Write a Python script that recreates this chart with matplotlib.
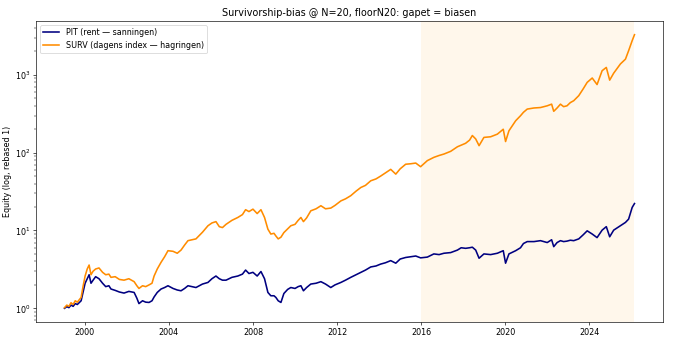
import numpy as np
import pandas as pd
import matplotlib
matplotlib.use("Agg")
import matplotlib.pyplot as plt

# values (decimal year, equity rebased to 1)
years = [
    1999.04, 1999.15, 1999.25, 1999.35, 1999.45, 1999.55, 1999.65, 1999.75, 1999.83, 1999.92,
    2000.02, 2000.12, 2000.21, 2000.30, 2000.40, 2000.52, 2000.68, 2000.85, 2001.00, 2001.15,
    2001.25, 2001.45, 2001.65, 2001.87, 2002.10, 2002.35, 2002.48, 2002.58, 2002.75, 2002.90,
    2003.06, 2003.20, 2003.30, 2003.45, 2003.63, 2003.80, 2003.96, 2004.20, 2004.40, 2004.58,
    2004.75, 2004.91, 2005.10, 2005.29, 2005.60, 2005.86, 2006.05, 2006.24, 2006.40, 2006.55,
    2006.72, 2007.00, 2007.28, 2007.50, 2007.65, 2007.81, 2008.00, 2008.20, 2008.38, 2008.55,
    2008.71, 2008.85, 2009.00, 2009.09, 2009.20, 2009.33, 2009.47, 2009.65, 2009.80, 2010.00,
    2010.15, 2010.28, 2010.40, 2010.55, 2010.75, 2011.00, 2011.23, 2011.45, 2011.70, 2011.90,
    2012.18, 2012.40, 2012.65, 2012.90, 2013.13, 2013.35, 2013.60, 2013.85, 2014.07, 2014.30,
    2014.55, 2014.79, 2015.00, 2015.26, 2015.50, 2015.74, 2015.97, 2016.29, 2016.60, 2016.85,
    2017.08, 2017.40, 2017.72, 2017.90, 2018.11, 2018.30, 2018.43, 2018.59, 2018.75, 2018.98,
    2019.30, 2019.62, 2019.90, 2020.01, 2020.17, 2020.49, 2020.72, 2020.86, 2021.04, 2021.36,
    2021.67, 2021.99, 2022.20, 2022.30, 2022.46, 2022.62, 2022.77, 2022.93, 2023.09, 2023.25,
    2023.49, 2023.70, 2023.89, 2024.13, 2024.36, 2024.60, 2024.80, 2024.96, 2025.15, 2025.47,
    2025.71, 2025.86, 2026.03, 2026.14,
]
pit = [
    1.00, 1.05, 1.02, 1.10, 1.06, 1.15, 1.12, 1.19, 1.25, 1.60,
    2.10, 2.40, 2.70, 2.10, 2.30, 2.55, 2.40, 2.10, 1.90, 1.95,
    1.77, 1.70, 1.62, 1.57, 1.65, 1.60, 1.35, 1.15, 1.25, 1.20,
    1.19, 1.25, 1.40, 1.60, 1.77, 1.85, 1.95, 1.80, 1.72, 1.68,
    1.80, 1.95, 1.90, 1.85, 2.05, 2.15, 2.40, 2.60, 2.40, 2.30,
    2.30, 2.50, 2.60, 2.75, 3.10, 2.80, 2.90, 2.60, 2.97, 2.40,
    1.60, 1.45, 1.45, 1.38, 1.25, 1.19, 1.55, 1.75, 1.85, 1.80,
    1.90, 1.95, 1.68, 1.85, 2.05, 2.10, 2.20, 2.05, 1.85, 2.00,
    2.15, 2.30, 2.50, 2.70, 2.90, 3.10, 3.40, 3.50, 3.70, 3.85,
    4.10, 3.80, 4.30, 4.50, 4.60, 4.70, 4.45, 4.55, 5.00, 4.90,
    5.10, 5.20, 5.60, 6.00, 5.90, 6.00, 6.10, 5.60, 4.40, 5.00,
    4.90, 5.10, 5.50, 3.80, 5.00, 5.50, 6.00, 6.80, 7.20, 7.20,
    7.40, 7.00, 7.60, 6.20, 7.00, 7.40, 7.20, 7.30, 7.50, 7.40,
    7.80, 8.80, 9.90, 9.00, 8.10, 10.10, 11.20, 8.30, 10.10, 11.50,
    12.70, 14.00, 19.80, 22.20,
]
surv = [
    1.02, 1.10, 1.06, 1.18, 1.12, 1.25, 1.20, 1.30, 1.38, 1.90,
    2.60, 3.20, 3.60, 2.70, 3.00, 3.20, 3.30, 2.90, 2.70, 2.75,
    2.50, 2.55, 2.35, 2.30, 2.40, 2.20, 1.95, 1.80, 1.95, 1.90,
    2.00, 2.10, 2.60, 3.20, 3.90, 4.60, 5.50, 5.40, 5.10, 5.60,
    6.50, 7.40, 7.60, 7.80, 9.50, 11.50, 12.50, 13.00, 11.20, 10.90,
    12.00, 13.50, 14.70, 16.00, 18.50, 17.50, 18.80, 16.50, 18.50, 14.70,
    10.40, 9.00, 9.20, 8.50, 7.80, 8.20, 9.40, 10.50, 11.50, 12.00,
    13.50, 14.70, 13.00, 14.50, 17.90, 19.00, 20.80, 19.00, 19.40, 21.00,
    24.0, 25.5, 28.0, 32.0, 35.7, 38.0, 43.5, 46.0, 50.0, 55.0,
    61.0, 53.0, 62.0, 71.0, 72.0, 73.5, 66.0, 79.0, 87.0, 92.0,
    96.0, 104.0, 119.0, 125.0, 132.0, 145.0, 166.0, 150.0, 123.0, 157.0,
    160.0, 173.0, 200.0, 139.0, 191.0, 257.0, 298.0, 330.0, 363.0, 375.0,
    380.0, 400.0, 420.0, 340.0, 375.0, 420.0, 390.0, 400.0, 440.0, 465.0,
    540.0, 660.0, 800.0, 910.0, 750.0, 1130.0, 1245.0, 855.0, 1050.0, 1380.0,
    1590.0, 2040.0, 2750.0, 3280.0,
]
oos_start = "2016-01-01"

dates = pd.Timestamp("2000-01-01") + pd.to_timedelta((np.array(years) - 2000) * 365.25, unit="D")

fig, ax = plt.subplots(figsize=(12, 343 / 57.5), dpi=57.5)

ax.axvspan(pd.Timestamp(oos_start), dates[-1], color="orange", alpha=0.08, lw=0)
ax.plot(dates, pit, color="navy", lw=2.0, label="PIT (rent — sanningen)")
ax.plot(dates, surv, color="darkorange", lw=2.0, label="SURV (dagens index — hagringen)")

ax.set_yscale("log")
ax.set_title("Survivorship-bias @ N=20, floorN20: gapet = biasen")
ax.set_ylabel("Equity (log, rebased 1)")
ax.legend(loc="upper left")

fig.subplots_adjust(left=36 / 690, right=663 / 690, top=1 - 21 / 343, bottom=1 - 322 / 343)
plt.savefig("out.png", dpi=57.5)
